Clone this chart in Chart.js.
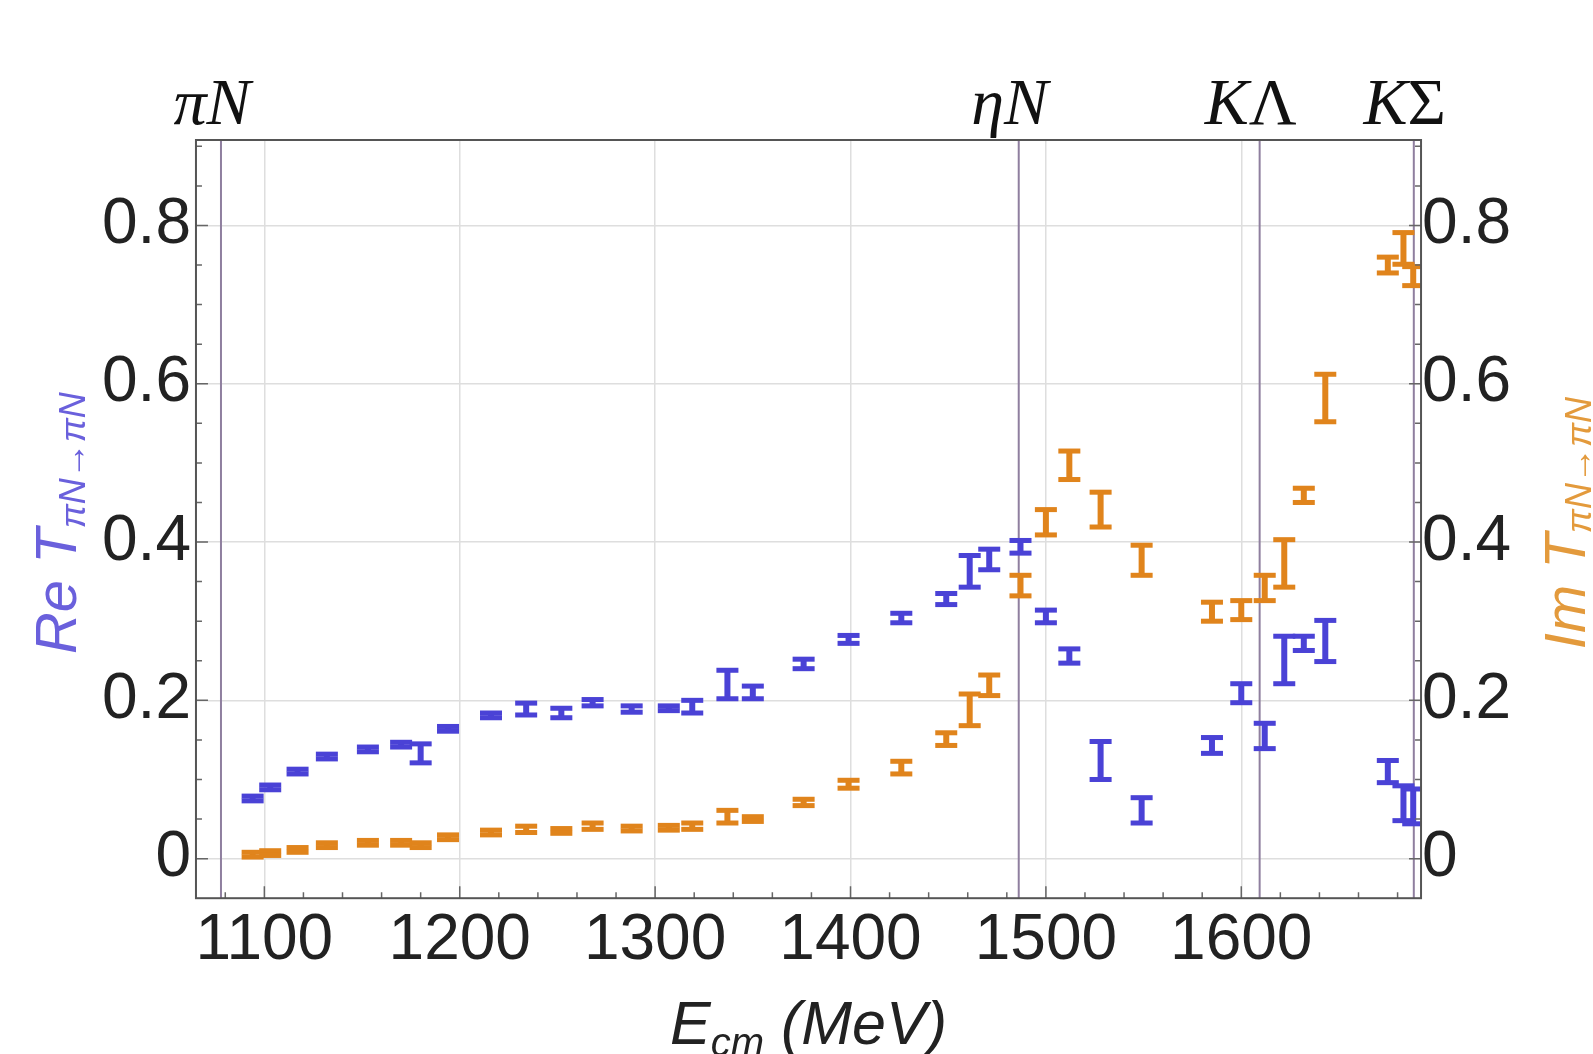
<!DOCTYPE html>
<html>
<head>
<meta charset="utf-8">
<script src="https://cdn.jsdelivr.net/npm/chart.js@4.4.1/dist/chart.umd.min.js"></script>
<style>
  html, body { margin: 0; padding: 0; background: #fff; }
  #wrap { width: 1593px; height: 1054px; position: relative; }
</style>
</head>
<body>
<div id="wrap"><canvas id="myChart"></canvas></div>
<script>
// energies (MeV) of the single-energy points
const energies = [1094, 1103, 1117, 1132, 1153, 1170, 1180, 1194, 1216, 1234, 1252, 1268, 1288, 1307, 1319, 1337, 1350,
  1376, 1399, 1426, 1449, 1461, 1471, 1487, 1500, 1512, 1528, 1549, 1585, 1600, 1612, 1622, 1632, 1643, 1675, 1683, 1688];

// Re T and its error
const reT = [0.076, 0.090, 0.110, 0.129, 0.138, 0.144, 0.133, 0.164, 0.181, 0.189, 0.184, 0.197, 0.189, 0.190, 0.192, 0.220, 0.210,
  0.246, 0.277, 0.304, 0.328, 0.363, 0.378, 0.394, 0.306, 0.256, 0.124, 0.061, 0.143, 0.209, 0.155, 0.251, 0.272, 0.275, 0.110, 0.070, 0.066];
const reErr = [0.003, 0.003, 0.003, 0.003, 0.003, 0.003, 0.012, 0.003, 0.003, 0.0075, 0.006, 0.004, 0.004, 0.003, 0.008, 0.018, 0.008,
  0.006, 0.005, 0.006, 0.007, 0.020, 0.013, 0.008, 0.008, 0.009, 0.024, 0.016, 0.010, 0.012, 0.016, 0.030, 0.009, 0.026, 0.014, 0.022, 0.022];

// Im T and its error
const imT = [0.005, 0.007, 0.011, 0.017, 0.020, 0.020, 0.017, 0.027, 0.033, 0.037, 0.035, 0.041, 0.038, 0.039, 0.041, 0.053, 0.050,
  0.071, 0.094, 0.115, 0.151, 0.188, 0.219, 0.345, 0.425, 0.497, 0.441, 0.377, 0.312, 0.314, 0.342, 0.373, 0.459, 0.582, 0.750, 0.771, 0.736];
const imErr = [0.003, 0.003, 0.003, 0.003, 0.003, 0.003, 0.003, 0.003, 0.003, 0.004, 0.003, 0.004, 0.003, 0.003, 0.004, 0.008, 0.003,
  0.004, 0.005, 0.008, 0.008, 0.020, 0.013, 0.013, 0.016, 0.018, 0.022, 0.019, 0.012, 0.012, 0.016, 0.030, 0.009, 0.030, 0.010, 0.020, 0.012];

// thresholds shown on top frame
const thresholdE = [1077.8, 1486.1, 1609.4, 1688.3];
const thresholdLabels = ["πN", "ηN", "KΛ", "KΣ"];

// tick labels
const xTicks = [1100, 1200, 1300, 1400, 1500, 1600];
const yTicks = [0, 0.2, 0.4, 0.6, 0.8];

const BLUE = "#4a42d6";
const ORANGE = "#e0841c";
const SANS = "'Liberation Sans', Arial, sans-serif";
const SERIF = "'Liberation Serif', 'Times New Roman', serif";

function toPoints(vals, errs) {
  return energies.map((e, i) => ({ x: e, y: vals[i], err: errs[i] }));
}

// vertical lines at the thresholds
const thresholdLines = {
  id: "thresholdLines",
  beforeDatasetsDraw(chart) {
    const { ctx, chartArea } = chart;
    const x = chart.scales.x;
    ctx.save();
    ctx.strokeStyle = "#8f7f9f";
    ctx.lineWidth = 2;
    thresholdE.forEach((e) => {
      const px = x.getPixelForValue(e);
      ctx.beginPath();
      ctx.moveTo(px, chartArea.top);
      ctx.lineTo(px, chartArea.bottom);
      ctx.stroke();
    });
    ctx.restore();
  },
};

// I-shaped error bars
const errorBars = {
  id: "errorBars",
  afterDatasetsDraw(chart) {
    const { ctx, chartArea } = chart;
    const x = chart.scales.x;
    ctx.save();
    ctx.beginPath();
    ctx.rect(chartArea.left, chartArea.top, chartArea.right - chartArea.left, chartArea.bottom - chartArea.top);
    ctx.clip();
    chart.data.datasets.forEach((ds) => {
      const ys = chart.scales[ds.yAxisID];
      ctx.fillStyle = ds.borderColor;
      ds.data.forEach((p) => {
        const px = x.getPixelForValue(p.x);
        const top = ys.getPixelForValue(p.y + p.err);
        const bot = ys.getPixelForValue(p.y - p.err);
        ctx.fillRect(px - 3, top, 6, bot - top);
        ctx.fillRect(px - 11, top - 2.5, 22, 5);
        ctx.fillRect(px - 11, bot - 2.5, 22, 5);
      });
    });
    ctx.restore();
  },
};

// frame, inward ticks, titles and threshold labels
const frameAndLabels = {
  id: "frameAndLabels",
  afterDraw(chart) {
    const { ctx, chartArea: a } = chart;
    const x = chart.scales.x;
    const y = chart.scales.y;
    ctx.save();

    // ticks
    ctx.strokeStyle = "#666";
    ctx.lineWidth = 1.5;
    ctx.beginPath();
    for (let e = 1080; e <= 1690; e += 20) {
      const px = x.getPixelForValue(e);
      const len = e % 100 === 0 ? 12 : 6;
      ctx.moveTo(px, a.bottom);
      ctx.lineTo(px, a.bottom - len);
    }
    for (let k = 0; k <= 18; k++) {
      const v = k * 0.05;
      const py = y.getPixelForValue(v);
      if (py < a.top) continue;
      const len = k % 4 === 0 ? 12 : 6;
      ctx.moveTo(a.left, py);
      ctx.lineTo(a.left + len, py);
      ctx.moveTo(a.right, py);
      ctx.lineTo(a.right - len, py);
    }
    ctx.stroke();

    // frame
    ctx.strokeStyle = "#555";
    ctx.lineWidth = 2;
    ctx.strokeRect(a.left, a.top, a.right - a.left, a.bottom - a.top);

    // threshold labels on top (Latin/lowercase italic, Greek capitals upright)
    thresholdE.forEach((e, i) => {
      const parts = Array.from(thresholdLabels[i]).map((ch) => ({
        t: ch,
        f: (/[\u0391-\u03A9]/.test(ch) ? "" : "italic ") + "66px " + SERIF,
        dy: 0,
      }));
      drawParts(ctx, parts, x.getPixelForValue(e) - 9, a.top - 16, "#111");
    });

    // x title: E_cm (MeV)
    const parts = [
      { t: "E", f: "italic 61px " + SANS, dy: 0 },
      { t: "cm", f: "italic 40px " + SANS, dy: 12 },
      { t: " (MeV)", f: "italic 61px " + SANS, dy: 0 },
    ];
    drawParts(ctx, parts, (a.left + a.right) / 2, 1044, "#222");

    // y titles, rotated
    const side = [
      { cx: 56, color: "#6a60dc", main: "Re T", sub: 9 },
      { cx: 1565, color: "#e39a3c", main: "Im T", sub: 6 },
    ];
    side.forEach((s) => {
      ctx.save();
      ctx.translate(s.cx, (a.top + a.bottom) / 2 + 4);
      ctx.rotate(-Math.PI / 2);
      drawParts(ctx, [
        { t: s.main, f: "italic 58px " + SANS, dy: 0 },
        { t: "πN→πN", f: "italic 36px " + SANS, dy: s.sub },
      ], 0, 20, s.color);
      ctx.restore();
    });

    ctx.restore();
  },
};

function drawParts(ctx, parts, cx, baseline, color) {
  let total = 0;
  parts.forEach((p) => { ctx.font = p.f; p.w = ctx.measureText(p.t).width; total += p.w; });
  let px = cx - total / 2;
  ctx.fillStyle = color;
  ctx.textAlign = "left";
  ctx.textBaseline = "alphabetic";
  parts.forEach((p) => {
    ctx.font = p.f;
    ctx.fillText(p.t, px, baseline + p.dy);
    px += p.w;
  });
}

const tickFont = { size: 64, family: SANS };
const fmt = (v) => (v === 0 ? "0" : v.toFixed(1));

new Chart(document.getElementById("myChart"), {
  type: "scatter",
  data: {
    datasets: [
      { label: "Im T", data: toPoints(imT, imErr), borderColor: ORANGE, backgroundColor: ORANGE, pointRadius: 0, yAxisID: "y2" },
      { label: "Re T", data: toPoints(reT, reErr), borderColor: BLUE, backgroundColor: BLUE, pointRadius: 0, yAxisID: "y" },
    ],
  },
  options: {
    responsive: true,
    maintainAspectRatio: false,
    animation: false,
    layout: { padding: { left: 97, right: 81, top: 140, bottom: 69 } },
    plugins: { legend: { display: false }, tooltip: { enabled: false } },
    scales: {
      x: {
        type: "linear",
        min: 1065,
        max: 1692,
        afterBuildTicks: (s) => { s.ticks = xTicks.map((v) => ({ value: v })); },
        grid: { color: "#dedede", lineWidth: 1.5, drawTicks: false },
        border: { display: false },
        ticks: { font: tickFont, color: "#222", padding: 5, maxRotation: 0, autoSkip: false, callback: (v) => String(v) },
      },
      y: {
        position: "left",
        min: -0.05,
        max: 0.908,
        afterBuildTicks: (s) => { s.ticks = yTicks.map((v) => ({ value: v })); },
        grid: { color: "#dedede", lineWidth: 1.5, drawTicks: false },
        border: { display: false },
        ticks: { font: tickFont, color: "#222", padding: 5, callback: fmt },
      },
      y2: {
        position: "right",
        min: -0.05,
        max: 0.908,
        afterBuildTicks: (s) => { s.ticks = yTicks.map((v) => ({ value: v })); },
        grid: { display: false, drawTicks: false },
        border: { display: false },
        ticks: { font: tickFont, color: "#222", padding: 1, callback: fmt },
      },
    },
  },
  plugins: [thresholdLines, errorBars, frameAndLabels],
});
</script>
</body>
</html>
